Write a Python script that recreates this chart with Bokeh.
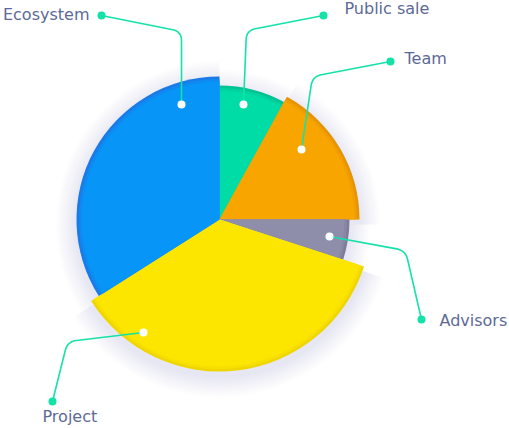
import math
from bokeh.plotting import figure
from bokeh.models import Range1d
from bokeh.core.properties import value
from bokeh.embed import file_html
from bokeh.resources import INLINE

# ---- data ----
categories = ["Public sale", "Team", "Advisors", "Project", "Ecosystem"]
shares = [8, 17, 5, 36, 34]
radii = [134, 140, 130, 152, 143]
colors = ["#00dca5", "#f8a500", "#8e8eaa", "#fce600", "#0795f7"]
edge_colors = ["#00c292", "#e69400", "#7d7d99", "#efd600", "#1a7ae8"]

W, H = 509, 428
CX, CY = 219, H - 219

p = figure(width=W, height=H, x_range=Range1d(0, W), y_range=Range1d(0, H),
           output_backend="svg", toolbar_location=None, min_border=0)
p.axis.visible = False
p.grid.visible = False
p.outline_line_color = None
p.background_fill_color = "white"

total = sum(shares)
starts, ends = [], []
a = math.pi / 2
for s in shares:
    starts.append(a)
    a -= 2 * math.pi * s / total
    ends.append(a)

# soft shadow
for k in range(1, 13):
    for st, en, r in zip(starts, ends, radii):
        p.wedge(x=CX, y=CY - 5, radius=r + k * 1.7, start_angle=st, end_angle=en,
                direction="clock", fill_color="#8a8aae", fill_alpha=0.015, line_color=None)

# slices with soft darker rim
for st, en, r, c, ec in zip(starts, ends, radii, colors, edge_colors):
    p.wedge(x=CX, y=CY, radius=r, start_angle=st, end_angle=en, direction="clock",
            fill_color=ec, line_color=None)
    p.wedge(x=CX, y=CY, radius=r - 2.5, start_angle=st, end_angle=en, direction="clock",
            fill_color=c, fill_alpha=0.6, line_color=None)
    p.wedge(x=CX, y=CY, radius=r - 5, start_angle=st, end_angle=en, direction="clock",
            fill_color=c, line_color=None)

# ---- callouts (layout in pixel coords, y from top) ----
callouts = {
    "Ecosystem": [(181, 104), (181, 31), (101, 15)],
    "Public sale": [(243, 104), (246, 30), (323, 15)],
    "Team": [(301, 149), (312, 76), (390, 61)],
    "Advisors": [(329, 236), (405, 250), (421, 319)],
    "Project": [(143, 332), (67, 341), (52, 401)],
}
labels = {
    "Ecosystem": (89, 14, "right"),
    "Public sale": (344, 8, "left"),
    "Team": (404, 58, "left"),
    "Advisors": (439, 320, "left"),
    "Project": (42, 416, "left"),
}

def rounded(pts, rad=9, n=8):
    (x0, y0), (x1, y1), (x2, y2) = pts
    d1 = math.hypot(x1 - x0, y1 - y0)
    d2 = math.hypot(x2 - x1, y2 - y1)
    ax, ay = x1 - (x1 - x0) * rad / d1, y1 - (y1 - y0) * rad / d1
    bx, by = x1 + (x2 - x1) * rad / d2, y1 + (y2 - y1) * rad / d2
    xs, ys = [x0], [y0]
    for i in range(n + 1):
        t = i / n
        xs.append((1 - t) ** 2 * ax + 2 * (1 - t) * t * x1 + t * t * bx)
        ys.append((1 - t) ** 2 * ay + 2 * (1 - t) * t * y1 + t * t * by)
    xs.append(x2); ys.append(y2)
    return xs, ys

teal = "#14e2a8"
for name in categories:
    pts = callouts[name]
    xs, ys = rounded(pts)
    p.line(xs, [H - y for y in ys], line_color=teal, line_width=1.6)
    p.scatter([pts[0][0]], [H - pts[0][1]], size=8, fill_color="white", line_color=None)
    p.scatter([pts[-1][0]], [H - pts[-1][1]], size=8, fill_color=teal, line_color=None)
    lx, ly, al = labels[name]
    p.text([lx], [H - ly], text=[name], text_align=al, text_baseline="middle",
           text_font=value("DejaVu Sans"), text_font_size="16px", text_color="#5d6a96")

open("out.html", "w").write(file_html(p, INLINE))
